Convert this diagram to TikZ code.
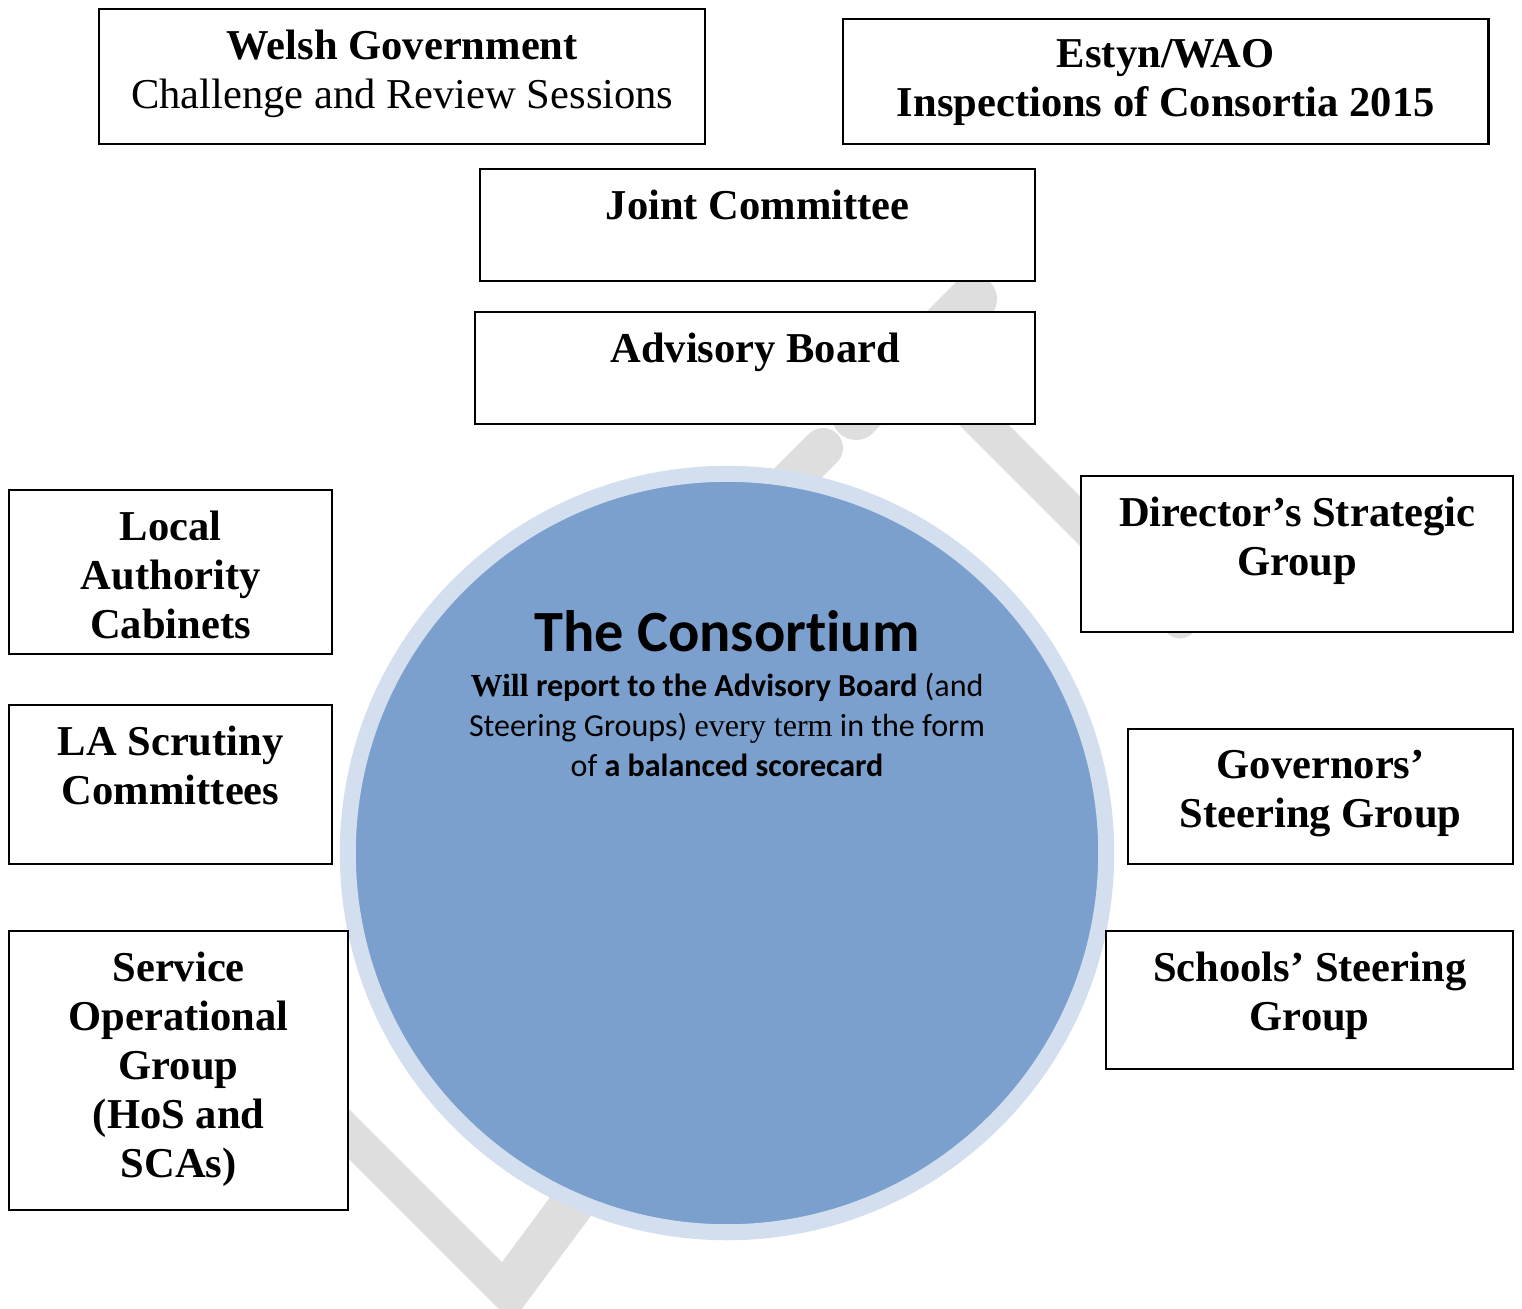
\documentclass[tikz,border=0pt]{standalone}
\usepackage{fontspec}
\setmainfont{Liberation Serif}
\newfontfamily\calibri[Ligatures=NoCommon]{Carlito}
\usetikzlibrary{positioning}
\definecolor{core}{RGB}{124,160,205}
\definecolor{ring}{RGB}{211,223,238}
\definecolor{wmgrey}{RGB}{222,222,222}
\tikzset{
	box/.style={draw, fill=white, line width=0.6pt, anchor=north west, inner sep=0pt},
	boxtext/.style={align=center, inner sep=0pt, font=\fontsize{12.1}{13.95}\selectfont\bfseries},
	wmstroke/.style={draw=wmgrey, line cap=round},
}

\begin{document}
\begin{tikzpicture}[x=0.01cm, y=-0.01cm]
		\useasboundingbox (0,0) rectangle (1522,1308);
		% grey draft letters in the background
		\draw[wmstroke, line width=0.48cm] (856,416) -- (973,299);
		\draw[wmstroke, line width=0.35cm] (920,361) -- (1180,621);
		\draw[wmstroke, line width=0.40cm] (823,448) -- (700,571);
		\fill[wmgrey] (300,1060) -- (502,1262) -- (548,1200)
			.. controls (556,1188) and (560,1170) .. (560,1150) -- (620,1150)
			-- (600,1200) .. controls (596,1207) and (594,1212) .. (590,1217)
			-- (512,1322) -- (300,1110) -- cycle;
		% the consortium in the middle
		\node[circle, fill=core, draw=ring, line width=0.16cm, minimum size=7.58cm, inner sep=0pt] (consortium) at (727,853) {};
		\node[font=\calibri\bfseries\fontsize{16.6}{20}\selectfont, inner sep=0pt, anchor=base] (title) at ([yshift=2.01cm]consortium.center) {The Consortium};
		\node[align=center, inner sep=0pt, font=\calibri\fontsize{9.12}{11.4}\selectfont, below=0.19cm of title] (report)
		{{\rmfamily\bfseries Will} \textbf{report to the Advisory Board} (and\\
			Steering Groups) {\rmfamily every term} in the form\\
			of \textbf{a balanced scorecard}};
		% boxes round it
		\node[box, minimum width=6.06cm, minimum height=1.35cm] (wg) at (98,8) {};
		\node[boxtext, below=0.21cm of wg.north] (wg-text) {Welsh Government\\ {\mdseries Challenge and Review Sessions}};
		\node[box, minimum width=6.45cm, minimum height=1.25cm] (estyn) at (842,18) {};
		\node[boxtext, below=0.21cm of estyn.north] (estyn-text) {Estyn/WAO\\ Inspections of Consortia 2015};
		\node[box, minimum width=5.55cm, minimum height=1.12cm] (joint) at (479,168) {};
		\node[boxtext, below=0.21cm of joint.north] (joint-text) {Joint Committee};
		\node[box, minimum width=5.60cm, minimum height=1.12cm] (advisory) at (474,311) {};
		\node[boxtext, below=0.21cm of advisory.north] (advisory-text) {Advisory Board};
		\node[box, minimum width=3.23cm, minimum height=1.64cm] (cabinets) at (8,489) {};
		\node[boxtext, below=0.21cm of cabinets.north] (cabinets-text) {Local\\ Authority\\ Cabinets};
		\node[box, minimum width=3.23cm, minimum height=1.59cm] (scrutiny) at (8,704) {};
		\node[boxtext, below=0.21cm of scrutiny.north] (scrutiny-text) {LA Scrutiny\\ Committees};
		\node[box, minimum width=3.39cm, minimum height=2.79cm] (service) at (8,930) {};
		\node[boxtext, below=0.21cm of service.north] (service-text) {Service\\ Operational\\ Group\\ (HoS and\\ SCAs)};
		\node[box, minimum width=4.32cm, minimum height=1.56cm] (director) at (1080,475) {};
		\node[boxtext, below=0.21cm of director.north] (director-text) {Director’s Strategic\\ Group};
		\node[box, minimum width=3.85cm, minimum height=1.35cm] (governors) at (1127,728) {};
		\node[boxtext, below=0.21cm of governors.north] (governors-text) {Governors’\\ Steering Group};
		\node[box, minimum width=4.07cm, minimum height=1.38cm] (schools) at (1105,930) {};
		\node[boxtext, below=0.21cm of schools.north] (schools-text) {Schools’ Steering\\ Group};
\end{tikzpicture}
\end{document}
